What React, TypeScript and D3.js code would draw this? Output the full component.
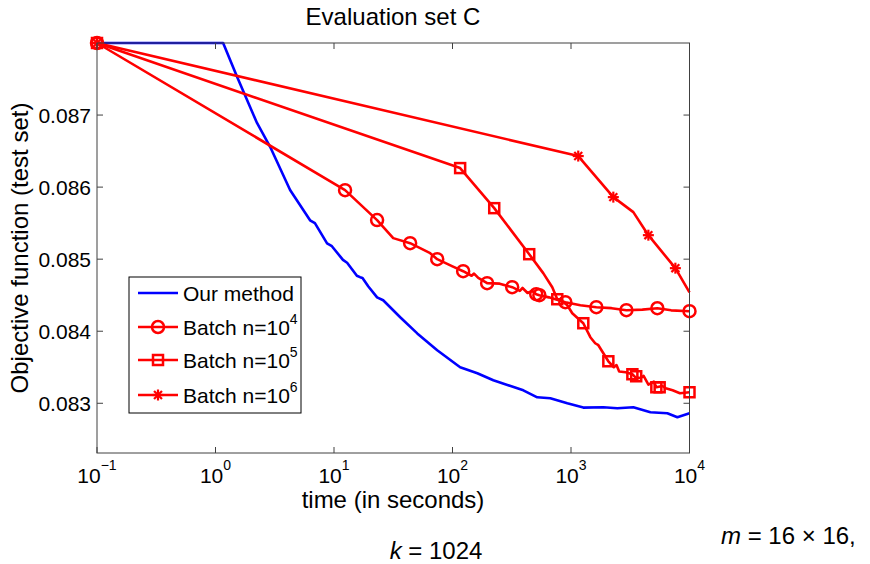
import React from 'react'
import * as d3 from 'd3'

// x values are time in seconds, y values the objective on the test set
const timeTicks = [0.1, 1, 10, 100, 1000, 10000]
const timeExponents = ['\u22121', '0', '1', '2', '3', '4']
const valueTicks = [0.083, 0.084, 0.085, 0.086, 0.087]

const ourMethod: [number, number][] = [
  [0.1, 0.088], [1.16, 0.088], [1.52, 0.08753], [2.24, 0.08689], [2.89, 0.08656],
  [4.26, 0.08596], [6.28, 0.08554], [6.9, 0.0855], [8.74, 0.08522], [9.6, 0.08518],
  [11.9, 0.08499], [12.9, 0.08495], [15.6, 0.08477], [16.6, 0.08475], [17.4, 0.08474],
  [19.5, 0.08462], [23.1, 0.08447], [26.0, 0.08443], [36.2, 0.084194], [50.4, 0.08397],
  [74.3, 0.083736], [116, 0.0835], [162, 0.083417], [221, 0.08332], [396, 0.08318],
  [519, 0.083083], [669, 0.08307], [931, 0.083], [1270, 0.08294], [1875, 0.082944],
  [2460, 0.08293], [3357, 0.082944], [4680, 0.082875], [6500, 0.082861], [7900, 0.082806],
  [10000, 0.082861],
]

const batch4Line: [number, number][] = [
  [0.1, 0.088], [12.4, 0.085958], [23.1, 0.085542], [31.6, 0.085292], [43.9, 0.085222],
  [64.8, 0.085083], [74.3, 0.085], [100, 0.0849], [123, 0.084833], [145, 0.08477],
  [152, 0.0848], [165, 0.08474], [196, 0.084667], [250, 0.08466], [319, 0.084611],
  [370, 0.08456], [390, 0.0846], [430, 0.08453], [470, 0.08456], [509, 0.084514],
  [541, 0.0845], [650, 0.08447], [750, 0.08444], [896, 0.084403], [1200, 0.08436],
  [1636, 0.084333], [2200, 0.08432], [2934, 0.084292], [4000, 0.0843], [5355, 0.084319],
  [7000, 0.08429], [10000, 0.084278],
]
const batch4Marks: [number, number][] = [
  [0.1, 0.088], [12.4, 0.085958], [23.1, 0.085542], [43.9, 0.085222], [74.3, 0.085],
  [123, 0.084833], [196, 0.084667], [319, 0.084611], [509, 0.084514], [541, 0.0845],
  [896, 0.084403], [1636, 0.084333], [2934, 0.084292], [5355, 0.084319], [10000, 0.084278],
]

const batch5Line: [number, number][] = [
  [0.1, 0.088], [116, 0.086264], [225, 0.085708], [444, 0.085069], [583, 0.084806],
  [695, 0.084611], [766, 0.084444], [800, 0.084444], [931, 0.084361], [1025, 0.08425],
  [1270, 0.084111], [1456, 0.083917], [1600, 0.083833], [1702, 0.083806], [2066, 0.083583],
  [2300, 0.0835], [2420, 0.08353], [2550, 0.08344], [2900, 0.08343], [3296, 0.083403],
  [3500, 0.08336], [3850, 0.08335], [4100, 0.08338], [4500, 0.08326], [5000, 0.0833],
  [5250, 0.083222], [5900, 0.08324], [6300, 0.08321], [7200, 0.08318], [8300, 0.08314],
  [10000, 0.083153],
]
const batch5Marks: [number, number][] = [
  [0.1, 0.088], [116, 0.086264], [225, 0.085708], [444, 0.085069], [766, 0.084444],
  [1270, 0.084111], [2066, 0.083583], [3296, 0.083403], [3550, 0.083375], [5250, 0.083222],
  [5600, 0.083222], [10000, 0.083153],
]

const batch6Line: [number, number][] = [
  [0.1, 0.088], [1151, 0.086431], [2276, 0.085861], [3357, 0.085653], [4497, 0.085333],
  [7600, 0.084875], [10000, 0.08454],
]
const batch6Marks: [number, number][] = [
  [0.1, 0.088], [1151, 0.086431], [2276, 0.085861], [4497, 0.085333], [7600, 0.084875],
]

const legendNames = ['Our method', 'Batch n=10', 'Batch n=10', 'Batch n=10']
const legendExponents = ['', '4', '5', '6']

const W = 870
const H = 564
const left = 97
const right = 689.5
const top = 43
const bottom = 453
const font = 'Liberation Sans, Arial, Helvetica, sans-serif'
const RED = '#ff0000'
const BLUE = '#0000ff'

const Circle = ({ x, y }: { x: number; y: number }) => (
  <circle cx={x} cy={y} r={6} fill="none" stroke={RED} strokeWidth={2.5} />
)
const Square = ({ x, y }: { x: number; y: number }) => (
  <rect x={x - 5} y={y - 5} width={10} height={10} fill="none" stroke={RED} strokeWidth={2.5} />
)
const Star = ({ x, y }: { x: number; y: number }) => {
  const s = 5.5
  const d = s * 0.72
  return (
    <g stroke={RED} strokeWidth={2.2}>
      <line x1={x - s} y1={y} x2={x + s} y2={y} />
      <line x1={x} y1={y - s} x2={x} y2={y + s} />
      <line x1={x - d} y1={y - d} x2={x + d} y2={y + d} />
      <line x1={x - d} y1={y + d} x2={x + d} y2={y - d} />
    </g>
  )
}

export default function App() {
  const x = d3.scaleLog().domain([0.1, 10000]).range([left, right])
  const y = d3.scaleLinear().domain([0.08231, 0.088]).range([bottom, top])
  const path = d3
    .line<[number, number]>()
    .x((d) => x(d[0]))
    .y((d) => y(d[1]))

  const markers = [null, Circle, Square, Star]
  const legendY = [293, 327, 360, 395]

  return (
    <svg width={W} height={H} style={{ position: 'absolute', left: 0, top: 0, background: '#fff' }} fontFamily={font}>
      <rect width={W} height={H} fill="#fff" />
      <text x={393} y={25} fontSize={24} textAnchor="middle">Evaluation set C</text>

      {/* series */}
      <path d={path(ourMethod) || ''} fill="none" stroke={BLUE} strokeWidth={2.6} strokeLinejoin="round" />
      <path d={path(batch4Line) || ''} fill="none" stroke={RED} strokeWidth={2.6} strokeLinejoin="round" />
      <path d={path(batch5Line) || ''} fill="none" stroke={RED} strokeWidth={2.6} strokeLinejoin="round" />
      <path d={path(batch6Line) || ''} fill="none" stroke={RED} strokeWidth={2.6} strokeLinejoin="round" />
      {batch4Marks.map((d, i) => <Circle key={'c' + i} x={x(d[0])} y={y(d[1])} />)}
      {batch5Marks.map((d, i) => <Square key={'s' + i} x={x(d[0])} y={y(d[1])} />)}
      {batch6Marks.map((d, i) => <Star key={'a' + i} x={x(d[0])} y={y(d[1])} />)}

      {/* axes box + inward ticks */}
      <rect x={left} y={top} width={right - left} height={bottom - top} fill="none" stroke="#404040" strokeWidth={1} />
      {timeTicks.map((t, i) => (
        <g key={'xt' + i}>
          <line x1={x(t)} x2={x(t)} y1={bottom} y2={bottom - 6} stroke="#404040" />
          <line x1={x(t)} x2={x(t)} y1={top} y2={top + 6} stroke="#404040" />
          <text x={x(t)} y={483} fontSize={21} textAnchor="middle">
            10<tspan fontSize={14} dy={-13}>{timeExponents[i]}</tspan>
          </text>
        </g>
      ))}
      {valueTicks.map((v, i) => (
        <g key={'yt' + i}>
          <line x1={left} x2={left + 6} y1={y(v)} y2={y(v)} stroke="#404040" />
          <line x1={right} x2={right - 6} y1={y(v)} y2={y(v)} stroke="#404040" />
          <text x={91} y={y(v)} dy="0.36em" fontSize={21} textAnchor="end">{v.toFixed(3)}</text>
        </g>
      ))}

      <text x={393} y={508} fontSize={24} textAnchor="middle">time (in seconds)</text>
      <text transform="translate(28,248) rotate(-90)" fontSize={24} textAnchor="middle">Objective function (test set)</text>

      {/* legend */}
      <rect x={129} y={277} width={172} height={136} fill="#fff" stroke="#000" strokeWidth={1} />
      {legendNames.map((name, i) => {
        const M = markers[i]
        return (
          <g key={'lg' + i}>
            <line x1={138} x2={178} y1={legendY[i]} y2={legendY[i]} stroke={i === 0 ? BLUE : RED} strokeWidth={2.6} />
            {M && <M x={158} y={legendY[i]} />}
            <text x={183} y={legendY[i]} dy="0.36em" fontSize={21}>
              {name}
              {legendExponents[i] && <tspan fontSize={14} dy={-11}>{legendExponents[i]}</tspan>}
            </text>
          </g>
        )
      })}

      <text x={721} y={544} fontSize={24}>
        <tspan fontStyle="italic">m</tspan> = 16 {'\u00d7'} 16,
      </text>
      <text x={436} y={559} fontSize={24} textAnchor="middle">
        <tspan fontStyle="italic">k</tspan> = 1024
      </text>
    </svg>
  )
}
